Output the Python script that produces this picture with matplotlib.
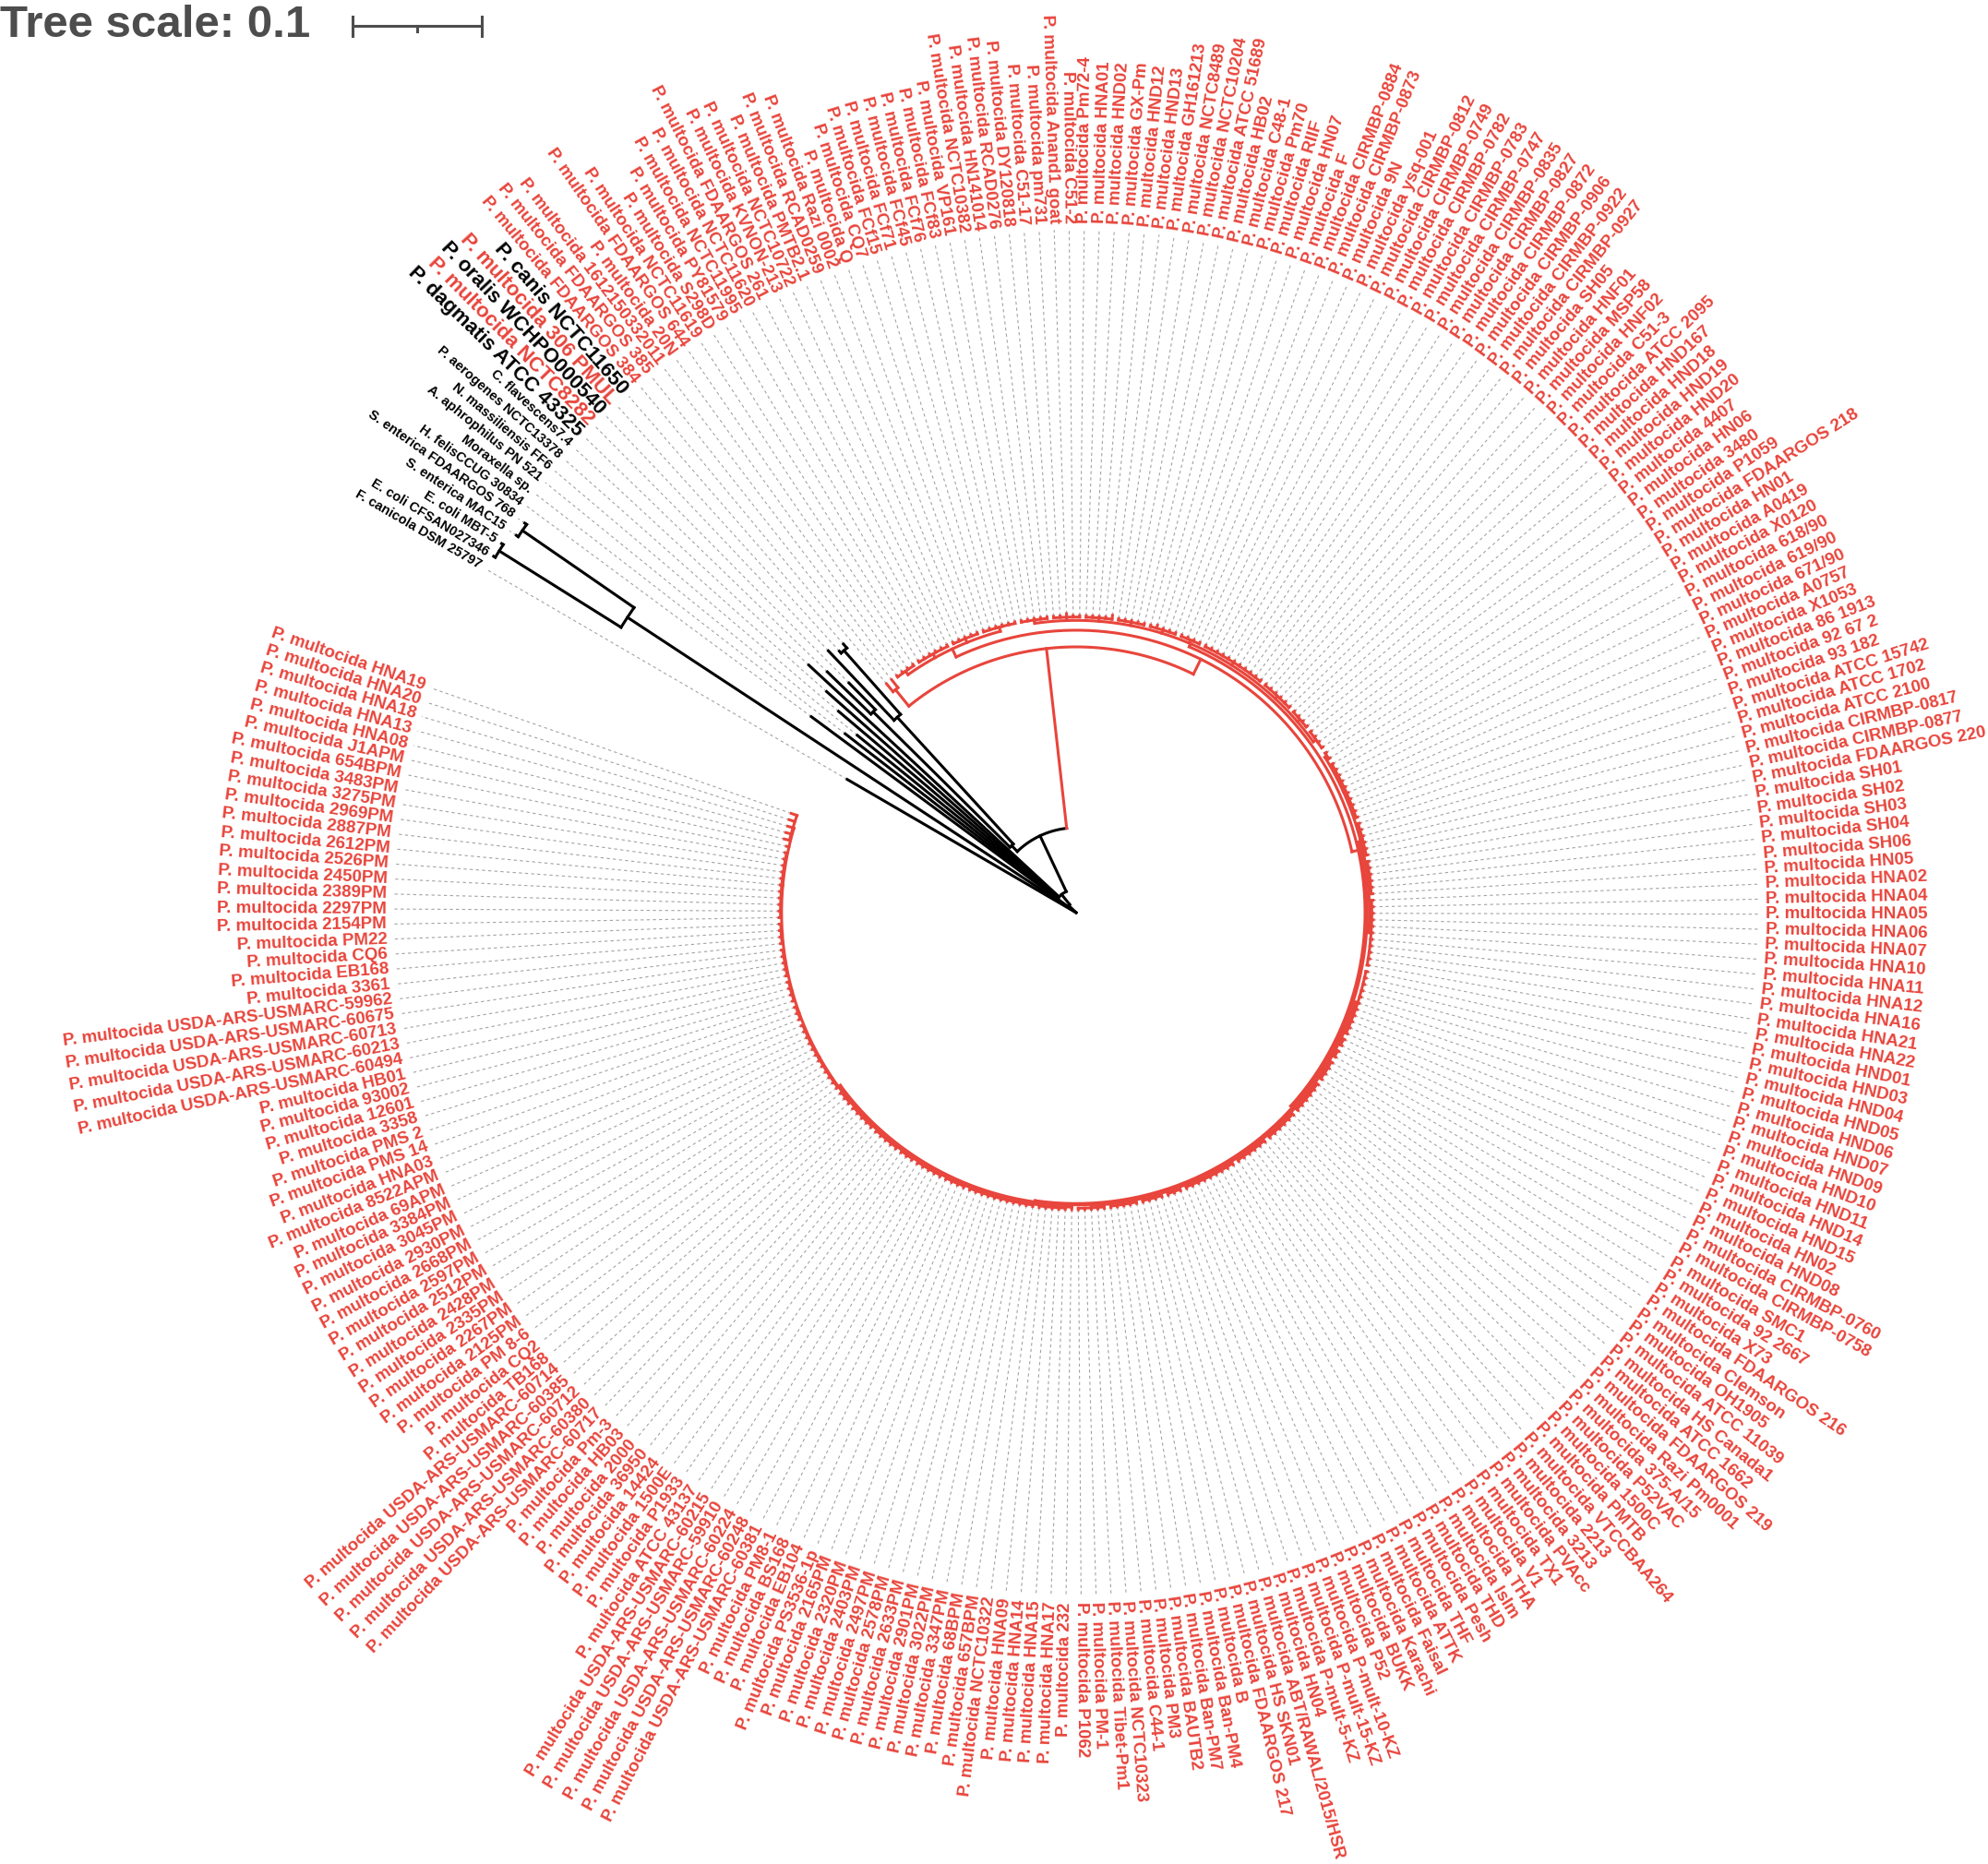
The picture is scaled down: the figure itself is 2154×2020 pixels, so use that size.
import numpy as np
import matplotlib
matplotlib.use("Agg")
import matplotlib.pyplot as plt

plt.rcParams['font.family'] = ['Liberation Sans', 'DejaVu Sans']

# strains of the main P. multocida clade, counter-clockwise from HNA19
pm_strains = [
    "HNA19", "HNA20", "HNA18", "HNA13", "HNA08", "J1APM", "654BPM", "3483PM",
    "3275PM", "2969PM", "2887PM", "2612PM", "2526PM", "2450PM", "2389PM",
    "2297PM", "2154PM", "PM22", "CQ6", "EB168", "3361",
    "USDA-ARS-USMARC-59962", "USDA-ARS-USMARC-60675", "USDA-ARS-USMARC-60713",
    "USDA-ARS-USMARC-60213", "USDA-ARS-USMARC-60494", "HB01", "93002", "12601",
    "3358", "PMS 2", "PMS 14", "HNA03", "8522APM", "69APM", "3384PM", "3045PM",
    "2930PM", "2668PM", "2597PM", "2512PM", "2428PM", "2335PM", "2267PM",
    "2125PM", "PM 8-6", "CQ2", "TB168", "USDA-ARS-USMARC-60714",
    "USDA-ARS-USMARC-60385", "USDA-ARS-USMARC-60712", "USDA-ARS-USMARC-60380",
    "USDA-ARS-USMARC-60717", "Pm-3", "HB03", "2000", "36950", "14424", "1500E",
    "P1933", "ATCC 43137", "USDA-ARS-USMARC-60215", "USDA-ARS-USMARC-59910",
    "USDA-ARS-USMARC-60224", "USDA-ARS-USMARC-60248", "USDA-ARS-USMARC-60381",
    "PM8-1", "BS168", "EB104", "PS3536-1p", "2165PM", "2320PM", "2403PM",
    "2497PM", "2578PM", "2633PM", "2901PM", "3022PM", "3347PM", "68BPM",
    "657BPM", "NCTC10322", "HNA09", "HNA14", "HNA15", "HNA17", "232", "P1062",
    "PM-1", "Tibet-Pm1", "NCTC10323", "C44-1", "PM3", "BAUTB2", "Ban-PM7",
    "Ban-PM4", "B", "FDAARGOS 217", "HS SKN01", "ABT/RAWAL/2015/HSR", "HN04",
    "P-mult-5-KZ", "P-mult-15-KZ", "P-mult-10-KZ", "P52", "BUKK", "Karachi",
    "Faisal", "ATTK", "THF", "Pesh", "THD", "Islm", "THA", "V1", "TX1", "PVAcc",
    "3213", "2213", "VTCCBAA264", "PMTB", "1500C", "P52VAC", "375-A/15",
    "Razi Pm0001", "FDAARGOS 219", "ATCC 1662", "HS Canada1", "ATCC 11039",
    "OH1905", "Clemson", "FDAARGOS 216", "X73", "92 2667", "SMC1",
    "CIRMBP-0758", "CIRMBP-0760", "HND08", "HN02", "HND15", "HND14", "HND11",
    "HND10", "HND09", "HND07", "HND06", "HND05", "HND04", "HND03", "HND01",
    "HNA22", "HNA21", "HNA16", "HNA12", "HNA11", "HNA10", "HNA07", "HNA06",
    "HNA05", "HNA04", "HNA02", "HN05", "SH06", "SH04", "SH03", "SH02", "SH01",
    "FDAARGOS 220", "CIRMBP-0877", "CIRMBP-0817", "ATCC 2100", "ATCC 1702",
    "ATCC 15742", "93 182", "92 67 2", "86 1913", "X1053", "A0757", "671/90",
    "619/90", "618/90", "X0120", "A0419", "HN01", "FDAARGOS 218", "P1059",
    "3480", "HN06", "4407", "HND20", "HND19", "HND18", "HND167", "ATCC 2095",
    "C51-3", "HNF02", "MSP58", "HNF01", "SH05", "CIRMBP-0927", "CIRMBP-0922",
    "CIRMBP-0906", "CIRMBP-0872", "CIRMBP-0827", "CIRMBP-0835", "CIRMBP-0747",
    "CIRMBP-0783", "CIRMBP-0782", "CIRMBP-0749", "CIRMBP-0812", "ysq-001", "9N",
    "CIRMBP-0873", "CIRMBP-0884", "F", "HN07", "RIIF", "Pm70", "C48-1", "HB02",
    "ATCC 51689", "NCTC10204", "NCTC8489", "GH161213", "HND13", "HND12",
    "GX-Pm", "HND02", "HNA01", "Pm72-4", "C51-2", "Anand1 goat", "pm731",
    "C51-17", "DY120818", "RCAD0276", "HN141014", "NCTC10382", "VP161", "FCf83",
    "FCf76", "FCf45", "FCf71", "FCf15", "CQ7", "Q", "Razi 0002", "RCAD0259",
    "PMTB2.1", "NCTC10722", "KVNON-213", "FDAARGOS 261", "NCTC11620",
    "NCTC11995", "PY81579", "S298D", "NCTC11619", "FDAARGOS 644", "20N",
    "1612150332011", "FDAARGOS 385", "FDAARGOS 384",
]

# the other taxa, continuing counter-clockwise
other_taxa = [
    "P. canis NCTC11650", "P. multocida 306 PMUL", "P. oralis WCHPO000540",
    "P. multocida NCTC8282", "P. dagmatis ATCC 43325", "C. flavescens7.4",
    "P. aerogenes NCTC13378", "N. massiliensis FF6", "A. aphrophilus PN 521",
    "Moraxella sp.", "H. felisCCUG 30834", "S. enterica FDAARGOS 768",
    "S. enterica MAC15", "E. coli MBT-5", "E. coli CFSAN027346",
    "F. canicola DSM 25797",
]
other_red = [0, 1, 0, 1, 0, 0, 0, 0, 0, 0, 0, 0, 0, 0, 0, 0]
other_big = [1, 1, 1, 1, 1, 0, 0, 0, 0, 0, 0, 0, 0, 0, 0, 0]
other_tip_depth = [0.275, 0.273, 0.279, 0.250, 0.268, 0.282, 0.258, 0.241,
                   0.218, 0.226, 0.255, 0.5225, 0.5225, 0.5285, 0.5285, 0.205]

# tip depths of the P. multocida leaves (substitutions per site)
pm_tip_depth = 0.2300
pm_tip_extra = {1: 0.2335, 2: 0.2335, 3: 0.2330, 4: 0.2330, 5: 0.2330,
                225: 0.2318, 232: 0.2315, 218: 0.2312}

# internal nodes: first leaf, last leaf (1-based), depth
clade_first = [1, 1, 1, 1, 1, 261, 1, 240, 1, 186, 1, 1, 1, 88, 151,
               263, 263, 263, 266, 274, 274, 276]
clade_last = [278, 273, 272, 267, 262, 262, 260, 260, 239, 239, 185, 150, 87,
              150, 185, 267, 265, 264, 267, 277, 275, 277]
clade_depth = [0.0, 0.008, 0.018, 0.0657, 0.2057, 0.2221, 0.2186, 0.2255,
               0.2236, 0.2262, 0.2252, 0.2262, 0.2280, 0.2270, 0.2270,
               0.072, 0.205, 0.271, 0.221, 0.4157, 0.5207, 0.5270]

# small terminal groups inside the P. multocida clade
twig_first = [1, 7, 18, 22, 27, 31, 34, 46, 49, 54, 59, 62, 67, 71, 82,
              88, 93, 98, 102, 105, 114, 120, 126, 132, 136, 138, 140,
              151, 162, 168, 174, 184, 186, 190, 194, 200, 211, 215, 220,
              225, 230, 235, 240, 246, 251, 257]
twig_last = [5, 17, 21, 26, 30, 33, 45, 48, 53, 58, 61, 66, 70, 81, 86,
             92, 97, 101, 104, 113, 119, 125, 131, 135, 137, 139, 150,
             161, 167, 173, 183, 185, 189, 193, 199, 210, 214, 219, 224,
             229, 234, 239, 245, 250, 256, 260]
twig_depth = 0.2288

scale_len = 0.1

red = '#e8453c'
W, H = 2154, 2020
cx, cy = 1166, 989          # tree centre in pixels (from top-left)
r_max = 0.56
r_px = 784                  # pixel radius of r_max
label_r = 0.5307
first_angle, last_angle = 160.8, 509.8

n_pm = len(pm_strains)
labels = ["P. multocida " + s for s in pm_strains] + other_taxa
n = len(labels)
tip_depth = [pm_tip_extra.get(i + 1, pm_tip_depth) for i in range(n_pm)] + other_tip_depth


def angle_of(pos):
    return np.interp(pos, [1, n], [first_angle, last_angle])


# build the tree from nested leaf ranges
clades = list(zip(clade_first + twig_first, clade_last + twig_last,
                  clade_depth + [twig_depth] * len(twig_first)))
clades.sort(key=lambda c: -(c[1] - c[0]))
parent = []
for k, (f, l, d) in enumerate(clades):
    p = None
    for j in range(k):
        f2, l2, _ = clades[j]
        if f2 <= f and l <= l2 and (f2, l2) != (f, l):
            if p is None or (clades[p][1] - clades[p][0]) > (l2 - f2):
                p = j
    parent.append(p)

leaf_parent = []
for i in range(1, n + 1):
    p = None
    for j, (f, l, d) in enumerate(clades):
        if f <= i <= l and (p is None or (clades[p][1] - clades[p][0]) > (l - f)):
            p = j
    leaf_parent.append(p)

children = {k: [] for k in range(len(clades))}
for k, p in enumerate(parent):
    if p is not None:
        children[p].append(('c', k))
for i, p in enumerate(leaf_parent):
    children[p].append(('l', i))

pos = {}
for k in sorted(range(len(clades)), key=lambda c: clades[c][1] - clades[c][0]):
    cp = [pos[c] if t == 'c' else c + 1 for t, c in children[k]]
    pos[k] = (min(cp) + max(cp)) / 2

fig = plt.figure(figsize=(W / 100, H / 100), dpi=100)
ax = fig.add_axes([(cx - r_px) / W, (H - cy - r_px) / H, 2 * r_px / W, 2 * r_px / H],
                  projection='polar')
ax.set_ylim(0, r_max)
ax.axis('off')

lw = 2.2


def colour(f, l):
    return red if l <= n_pm else 'black'


for k, (f, l, d) in enumerate(clades):
    c = colour(f, l)
    a = np.deg2rad(angle_of(pos[k]))
    if parent[k] is not None:
        ax.plot([a, a], [clades[parent[k]][2], d], color=c, lw=lw, zorder=3)
    cp = [pos[cc] if t == 'c' else cc + 1 for t, cc in children[k]]
    if d > 0:
        th = np.deg2rad(np.linspace(angle_of(min(cp)), angle_of(max(cp)), 60))
        ax.plot(th, [d] * len(th), color=c, lw=lw, zorder=3, solid_capstyle='projecting')

for i in range(n):
    a = np.deg2rad(angle_of(i + 1))
    c = red if i < n_pm else 'black'
    ax.plot([a, a], [clades[leaf_parent[i]][2], tip_depth[i]], color=c, lw=lw, zorder=3)
    ax.plot([a, a], [tip_depth[i], label_r - 0.002], color='#a3a3a3', lw=0.8,
            linestyle=(0, (3, 3)), zorder=1)

    deg = angle_of(i + 1) % 360
    if np.cos(np.deg2rad(deg)) >= 0:
        rot, ha = (deg if deg <= 90 else deg - 360), 'left'
    else:
        rot, ha = deg - 180, 'right'
    if i < n_pm:
        tc, fs = red, 13.5
    else:
        j = i - n_pm
        tc = red if other_red[j] else 'black'
        fs = 16 if other_big[j] else 10.5
    ax.text(a, label_r + 0.003, labels[i], rotation=rot, rotation_mode='anchor',
            ha=ha, va='center', color=tc, fontsize=fs, fontweight='bold', clip_on=False)

# tree scale
ax2 = fig.add_axes([0, 0, 1, 1])
ax2.set_xlim(0, W)
ax2.set_ylim(H, 0)
ax2.axis('off')
ax2.patch.set_alpha(0)
px_per_unit = r_px / r_max
bx0, by = 382, 28
bx1 = bx0 + scale_len * px_per_unit
grey = '#4d4d4d'
ax2.plot([bx0, bx1], [by, by], color=grey, lw=2.2)
ax2.plot([bx0, bx0], [by - 10, by + 11], color=grey, lw=2.2)
ax2.plot([bx1, bx1], [by - 10, by + 11], color=grey, lw=2.2)
ax2.plot([(bx0 + bx1) / 2] * 2, [by, by + 6], color=grey, lw=2.2)
ax2.text(0, by, "Tree scale: 0.1", ha='left', va='center', fontsize=35.5,
         fontweight='bold', color=grey)

fig.savefig("out.png", dpi=100)
